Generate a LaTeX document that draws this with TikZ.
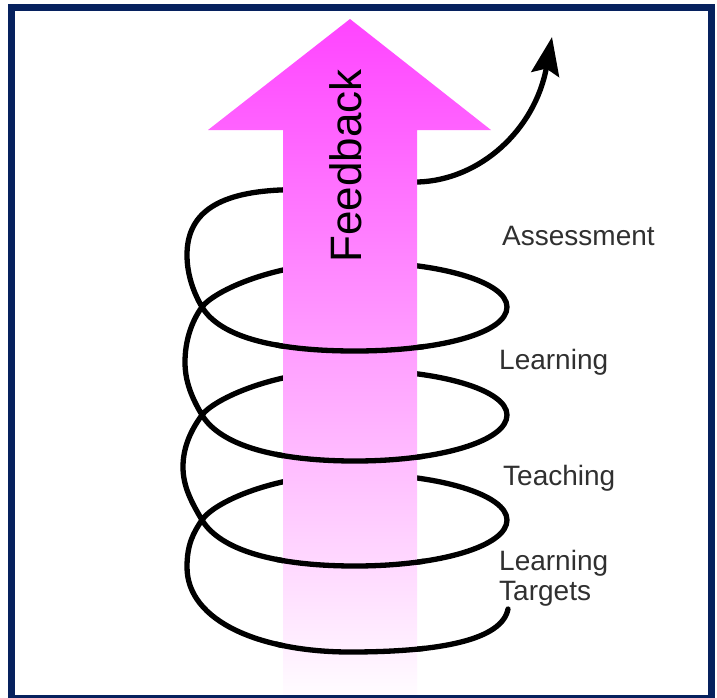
\documentclass[tikz,border=0pt]{standalone}
\usepackage{fontspec}
\setmainfont{Liberation Sans}
\usetikzlibrary{arrows.meta}
\definecolor{navy}{RGB}{6,33,94}
\definecolor{fbtop}{RGB}{255,68,255}
\definecolor{fbbottom}{RGB}{255,252,255}
\definecolor{labelgray}{RGB}{48,48,48}
\newcommand\helixpath{(S0)
  .. controls (502,640) and (440,652) .. (B0)
  .. controls (262,652) and (187,622) .. (L0)
  .. controls (187,545) and (193,533) .. (X1)
  .. controls (214,502) and (275,474) .. (T1)
  .. controls (440,474) and (507,495) .. (R1)
  .. controls (507,546) and (440,566) .. (F1)
  .. controls (275,566) and (220,550) .. (X1)
  .. controls (192,503) and (183,487) .. (L1)
  .. controls (183,447) and (191,430) .. (X2)
  .. controls (214,399) and (275,370) .. (T2)
  .. controls (440,370) and (507,390) .. (R2)
  .. controls (507,441) and (440,461) .. (F2)
  .. controls (275,461) and (220,445) .. (X2)
  .. controls (192,398) and (185,382) .. (L2)
  .. controls (185,342) and (191,322) .. (X3)
  .. controls (214,291) and (275,262) .. (T3)
  .. controls (440,262) and (507,282) .. (R3)
  .. controls (507,333) and (440,351) .. (F3)
  .. controls (275,351) and (220,337) .. (X3)
  .. controls (192,290) and (187,272) .. (L3)
  .. controls (187,215) and (215,193) .. (M1)
  .. controls (330,188) and (380,184) .. (E1)
  .. controls (480,180) and (535,130) .. (TIP)}
\begin{document}
\begin{tikzpicture}[x=1pt,y=-1pt,
  helix/.style={line width=5.3pt, line cap=round, line join=round, draw=black},
  lbl/.style={anchor=base west, inner sep=0pt, text=labelgray, font=\fontsize{28}{30}\selectfont}]
\useasboundingbox (0,0) rectangle (717,697);
\fill[white] (0,0) rectangle (717,697);

% spiral coordinates
\coordinate (S0) at (508,609);
\coordinate (B0) at (350,652);
\coordinate (L0) at (187,567);
\coordinate (X1) at (202,520);
\coordinate (T1) at (355,474);
\coordinate (R1) at (507,520);
\coordinate (F1) at (355,566);
\coordinate (L1) at (183,467);
\coordinate (X2) at (202,415);
\coordinate (T2) at (355,370);
\coordinate (R2) at (507,415);
\coordinate (F2) at (355,461);
\coordinate (L2) at (185,362);
\coordinate (X3) at (202,307);
\coordinate (T3) at (355,262);
\coordinate (R3) at (507,307);
\coordinate (F3) at (355,351);
\coordinate (L3) at (187,255);
\coordinate (M1) at (280,190);
\coordinate (E1) at (418,182);
\coordinate (TIP) at (552,37);

% full spiral (back parts get hidden by the arrow)
\draw[helix, -{Stealth[length=38pt,width=28pt,inset=6pt]}] \helixpath;

% feedback arrow
\path[top color=fbtop, bottom color=fbbottom]
  (350,19) -- (491,130) -- (417,130) -- (417,695) -- (283,695) -- (283,130) -- (208,130) -- cycle;

% front arcs redrawn over the arrow
\begin{scope}
  \clip (276,336) rectangle (424,363)
        (276,445) rectangle (424,469)
        (276,550) rectangle (424,575)
        (276,635) rectangle (424,670);
  \draw[helix] \helixpath;
\end{scope}

\node[rotate=90, anchor=base, inner sep=0pt, font=\fontsize{44}{44}\selectfont] (fb) at (361.5,166) {Feedback};

\node[lbl] (assess) at (502,245.5) {Assessment};
\node[lbl] (learn) at (499,369.5) {Learning};
\node[lbl] (teach) at (503,485) {Teaching};
\node[lbl] (lt1) at (499,570) {Learning};
\node[lbl] (lt2) at (499,600) {Targets};

% frame
\draw[navy, line width=7pt] (11.5,7) rectangle (711.5,698);
\end{tikzpicture}
\end{document}
